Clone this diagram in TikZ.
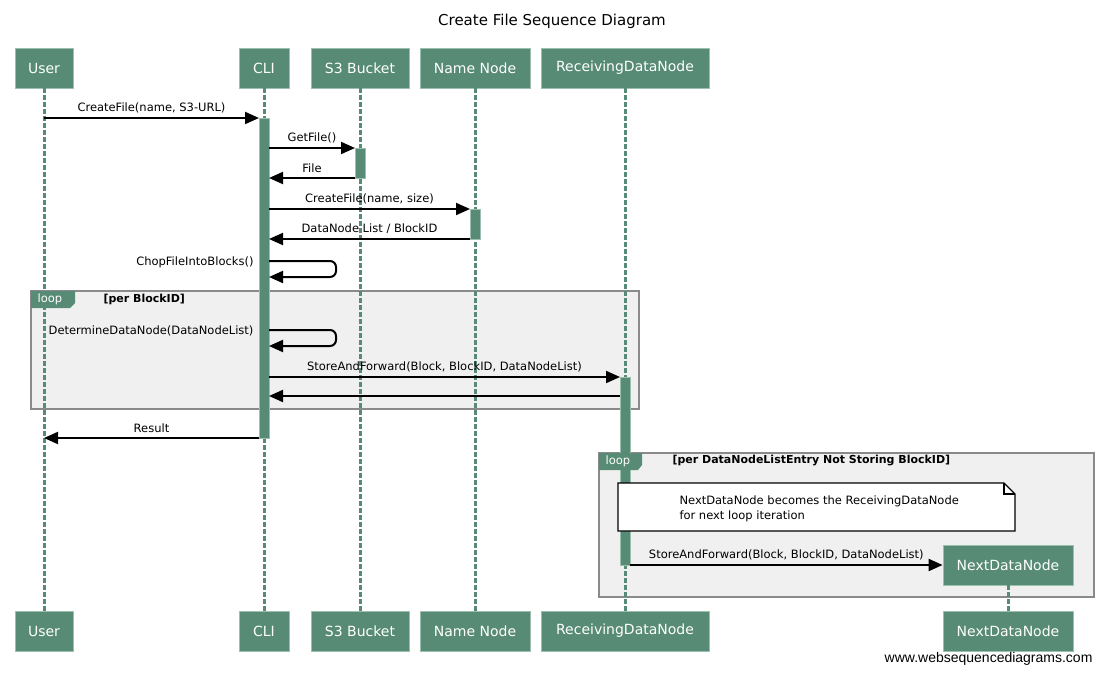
\documentclass[tikz,border=0pt]{standalone}
\usepackage{fontspec}
\setmainfont{DejaVu Sans}
\newfontfamily\footfont{Liberation Sans}
\usetikzlibrary{arrows.meta}
\definecolor{wsdgreen}{HTML}{578B76}
\definecolor{wsdedge}{HTML}{9DBFB0}
\definecolor{loopfill}{HTML}{F0F0F0}
\definecolor{loopedge}{HTML}{8A8A8A}

\begin{document}
\begin{tikzpicture}[x=1pt,y=-1pt,font=\fontsize{11.5}{13}\selectfont,
    participant/.style={rectangle,fill=wsdgreen,draw=wsdedge,line width=0.8pt,text=white,
      minimum height=40pt,inner sep=0pt,font=\fontsize{14}{16}\selectfont},
    lifeline/.style={wsdgreen,line width=3pt,dash pattern=on 4.5pt off 2.5pt},
    activation/.style={rectangle,fill=wsdgreen,draw=wsdedge,line width=0.6pt,
      minimum width=10pt,inner sep=0pt,outer sep=0pt,anchor=north},
    msg/.style={-{Triangle[length=14pt,width=12pt]},line width=2pt},
    loopframe/.style={fill=loopfill,draw=loopedge,line width=1.5pt},
    looptag/.style={fill=wsdgreen},
    loopguard/.style={anchor=west,font=\bfseries\fontsize{11}{13}\selectfont},
  ]
  \useasboundingbox (0,0) rectangle (1103,674);

  \node[font=\fontsize{15}{18}\selectfont] (title) at (552,21) {Create File Sequence Diagram};

  % loop frames
  \draw[loopframe] (31,291) rectangle (639,409);
  \draw[loopframe] (599,453) rectangle (1094,597);

  % participants
  \foreach \p/\t/\x/\w in {user/User/44/58, cli/CLI/264/50, s3/S3 Bucket/360/98,
      nn/Name Node/475/110, rdn/ReceivingDataNode/625/168} {
    \node[participant,minimum width=\w pt] (\p) at (\x,68) {\t};
    \node[participant,minimum width=\w pt] (\p-b) at (\x,631) {\t};
  }
  \node[participant,minimum width=130pt] (ndn) at (1008,565) {NextDataNode};
  \node[participant,minimum width=130pt] (ndn-b) at (1008,631) {NextDataNode};

  \foreach \p in {user,cli,s3,nn,rdn,ndn} \draw[lifeline] (\p.south) -- (\p-b.north);

  \node[activation,minimum height=320pt] (cli-act) at (264,118) {};
  \node[activation,minimum height=30pt] (s3-act) at (360,148) {};
  \node[activation,minimum height=30pt] (nn-act) at (475,209) {};
  \node[activation,minimum height=188pt] (rdn-act) at (625,377) {};

  % loop tags
  \fill[looptag] (31,291) -- (75,291) -- (75,303) -- (70,308) -- (31,308) -- cycle;
  \node[text=white] (loop1-tag) at (50,299) {loop};
  \node[loopguard] (loop1-guard) at (100,299) {[per BlockID]};
  \fill[looptag] (599,453) -- (642,453) -- (642,465) -- (638,470) -- (599,470) -- cycle;
  \node[text=white] (loop2-tag) at (618,461) {loop};
  \node[loopguard] (loop2-guard) at (669,461) {[per DataNodeListEntry Not Storing BlockID]};

  % note
  \draw[fill=white,line width=1.2pt] (618,483) -- (1004,483) -- (1015,494) -- (1015,531) -- (618,531) -- cycle;
  \draw[line width=1.2pt] (1004,483) -- (1004,494) -- (1015,494);
  \node[anchor=west,align=left,font=\fontsize{11.5}{15}\selectfont] (note) at (676,508.5)
    {NextDataNode becomes the ReceivingDataNode\\for next loop iteration};

  % messages
  \coordinate (user-m1) at (user.south |- cli-act.north);
  \draw[msg] (user-m1) -- (cli-act.north west) node[midway,above=1pt] (l-create1) {CreateFile(name, S3-URL)};
  \draw[msg] (cli-act.east |- s3-act.north) -- (s3-act.north west) node[midway,above=1pt] (l-getfile) {GetFile()};
  \draw[msg] (s3-act.south west) -- (cli-act.east |- s3-act.south) node[midway,above=1pt] (l-file) {File};
  \draw[msg] (cli-act.east |- nn-act.north) -- (nn-act.north west) node[midway,above=1pt] (l-create2) {CreateFile(name, size)};
  \draw[msg] (nn-act.south west) -- (cli-act.east |- nn-act.south) node[midway,above=1pt] (l-list) {DataNode List / BlockID};

  \coordinate (chop-a) at (269,261);
  \coordinate (chop-b) at (269,277);
  \draw[msg,rounded corners=6pt] (chop-a) -- ++(67,0) -- ++(0,16) -- (chop-b);
  \node[anchor=east] (l-chop) at (257,262) {ChopFileIntoBlocks()};

  \coordinate (det-a) at (269,330);
  \coordinate (det-b) at (269,346);
  \draw[msg,rounded corners=6pt] (det-a) -- ++(67,0) -- ++(0,16) -- (det-b);
  \node[anchor=east] (l-det) at (257,331) {DetermineDataNode(DataNodeList)};

  \draw[msg] (cli-act.east |- rdn-act.north) -- (rdn-act.north west) node[midway,above=1pt] (l-saf1) {StoreAndForward(Block, BlockID, DataNodeList)};
  \coordinate (rdn-ret) at (620,396);
  \draw[msg] (rdn-ret) -- (cli-act.east |- rdn-ret);
  \draw[msg] (cli-act.south west) -- (user.south |- cli-act.south) node[midway,above=1pt] (l-result) {Result};
  \draw[msg] (rdn-act.south east) -- (rdn-act.south east -| ndn.west) node[midway,above=1pt] (l-saf2) {StoreAndForward(Block, BlockID, DataNodeList)};

  \node[anchor=east,font=\footfont\fontsize{14}{16}\selectfont] (footer) at (1096,659) {www.websequencediagrams.com};
\end{tikzpicture}
\end{document}
